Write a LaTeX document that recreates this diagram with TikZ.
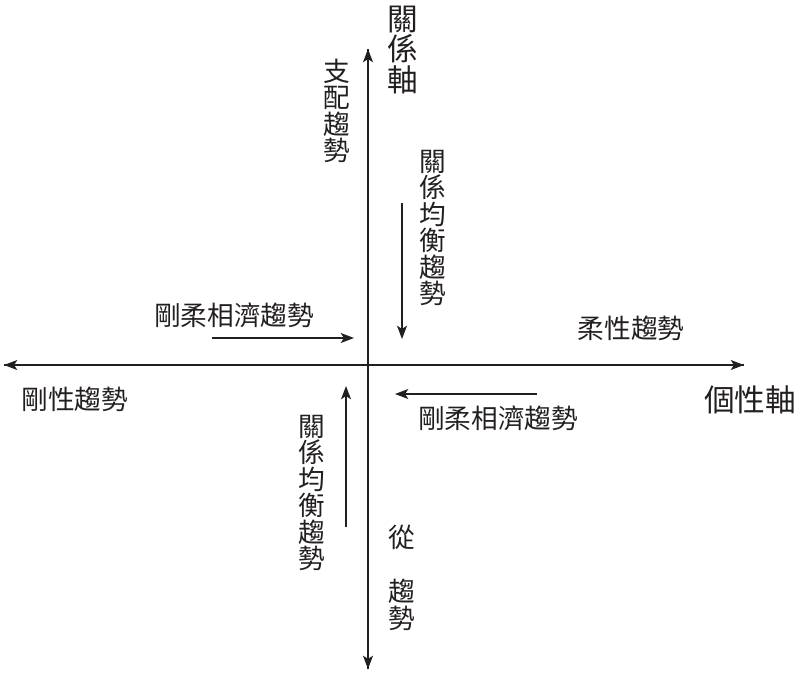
\documentclass[tikz,border=0pt]{standalone}
\usepackage{fontspec}
\newfontfamily\cjk{Noto Sans CJK TC}
\usetikzlibrary{arrows.meta}
\definecolor{ink}{HTML}{231F20}
\begin{document}
\begin{tikzpicture}[x=0.75pt,y=-0.75pt,
  axis/.style={ink,line width=1.15pt,-{Stealth[length=10pt,width=7.5pt,inset=2.5pt]}},
  trend/.style={ink,line width=1.15pt,-{Stealth[length=10pt,width=7.5pt,inset=2.5pt]}},
  lbl/.style={ink,inner sep=0pt,font=\cjk\fontsize{20}{19.8}\selectfont,align=center},
  biglbl/.style={ink,inner sep=0pt,font=\cjk\fontsize{23}{23}\selectfont,align=center}]
\useasboundingbox (0,0) rectangle (795,672);
% axis end points
\coordinate (L) at (4,365);
\coordinate (R) at (744,365);
\coordinate (T) at (368,49);
\coordinate (B) at (368,669);
\draw[axis] (R) -- (L);
\draw[axis] (L) -- (R);
\draw[axis] (B) -- (T);
\draw[axis] (T) -- (B);
% trend arrows
\coordinate (a1s) at (212,338); \coordinate (a1e) at (354,338);
\coordinate (a2s) at (402,203); \coordinate (a2e) at (402,339);
\coordinate (a3s) at (537,394); \coordinate (a3e) at (395,394);
\coordinate (a4s) at (346,527); \coordinate (a4e) at (346,386);
\draw[trend] (a1s) -- (a1e);
\draw[trend] (a2s) -- (a2e);
\draw[trend] (a3s) -- (a3e);
\draw[trend] (a4s) -- (a4e);
% labels
\node[biglbl] (relaxis) at (403,50) {關\\係\\軸};
\node[biglbl] (indaxis) at (750,400) {個性軸};
\node[lbl] (dom) at (337,111) {支\\配\\趨\\勢};
\node[lbl] (balU) at (433,228) {關\\係\\均\\衡\\趨\\勢};
\node[lbl] (balL) at (312,493) {關\\係\\均\\衡\\趨\\勢};
\node[lbl] (mixU) at (234,315) {剛柔相濟趨勢};
\node[lbl] (mixL) at (498,418) {剛柔相濟趨勢};
\node[lbl] (rigid) at (75,399) {剛性趨勢};
\node[lbl] (soft) at (631,328) {柔性趨勢};
\node[lbl] (sub1) at (402,537) {從};
\node[lbl] (sub2) at (402,605) {趨\\勢};
\end{tikzpicture}
\end{document}
